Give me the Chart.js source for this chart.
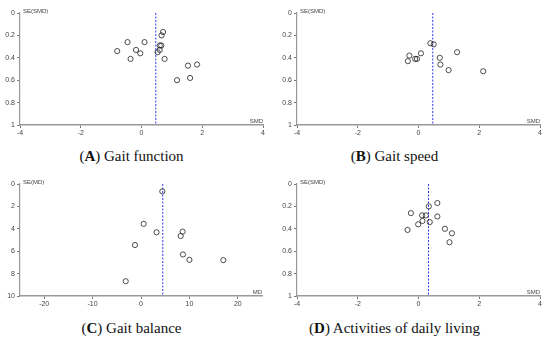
<!DOCTYPE html>
<html>
<head>
<meta charset="utf-8">
<script src="https://cdn.jsdelivr.net/npm/chart.js@4.4.1/dist/chart.umd.min.js"></script>
<style>
  body { margin: 0; background: #fff; width: 550px; height: 347px; position: relative; overflow: hidden; }
  .panel { position: absolute; width: 275px; height: 140px; }
  .cap { position: absolute; width: 275px; text-align: center; font-family: "Liberation Serif", "DejaVu Serif", serif; font-size: 15px; color: #111; }
  .cap b { font-weight: bold; }
</style>
</head>
<body>
<div class="panel" style="left:0;top:0"><canvas id="chartA"></canvas></div>
<div class="panel" style="left:275px;top:0"><canvas id="chartB"></canvas></div>
<div class="panel" style="left:0;top:170px"><canvas id="chartC"></canvas></div>
<div class="panel" style="left:275px;top:170px"><canvas id="chartD"></canvas></div>

<div class="cap" style="left:-6px;top:148px">(<b>A</b>) Gait function</div>
<div class="cap" style="left:257px;top:148px">(<b>B</b>) Gait speed</div>
<div class="cap" style="left:-6px;top:320px">(<b>C</b>) Gait balance</div>
<div class="cap" style="left:257px;top:320px">(<b>D</b>) Activities of daily living</div>

<script>
// ---- datos ----
// (A) Gait function
const smdA = [0.71, 0.66, -0.46, 0.10, 0.65, 0.60, -0.18, -0.80, -0.04, 0.60, 0.53, -0.36, 0.76, 1.53, 1.83, 1.17, 1.60];
const seA  = [0.17, 0.20, 0.26, 0.26, 0.29, 0.29, 0.33, 0.34, 0.36, 0.33, 0.35, 0.41, 0.41, 0.47, 0.46, 0.60, 0.58];
const pooledA = 0.47;

// (B) Gait speed
const smdB = [0.39, 0.50, 1.27, -0.30, 0.08, -0.35, -0.11, -0.05, 0.70, 0.72, 0.99, 2.13];
const seB  = [0.27, 0.28, 0.35, 0.38, 0.36, 0.43, 0.41, 0.41, 0.40, 0.46, 0.51, 0.52];
const pooledB = 0.47;

// (C) Gait balance
const mdC = [4.4, 0.55, 3.2, 8.6, 8.2, -1.24, 8.66, 10.0, 17.0, -3.16];
const seC = [0.66, 3.56, 4.31, 4.25, 4.64, 5.45, 6.29, 6.77, 6.80, 8.68];
const pooledC = 4.5;

// (D) Activities of daily living
const smdD = [0.62, 0.34, -0.25, 0.12, 0.24, 0.62, 0.13, -0.01, 0.37, -0.36, 0.87, 1.10, 1.02];
const seD  = [0.17, 0.20, 0.26, 0.28, 0.28, 0.29, 0.33, 0.36, 0.34, 0.41, 0.40, 0.44, 0.52];
const pooledD = 0.33;

// ticks
const xTicksSMD = [-4, -2, 0, 2, 4];
const yTicksSMD = [0, 0.2, 0.4, 0.6, 0.8, 1];
const xTicksMD = [-20, -10, 0, 10, 20];
const yTicksMD = [0, 2, 4, 6, 8, 10];

// texto de ejes
const axisLabels = {
  chartA: ["SE(SMD)", "SMD"],
  chartB: ["SE(SMD)", "SMD"],
  chartC: ["SE(MD)", "MD"],
  chartD: ["SE(SMD)", "SMD"]
};

const tickFont = { family: "Liberation Sans, Arial, sans-serif", size: 7 };
const fmt = v => String(Number(v.toFixed(2)));

// etiquetas SE(..) arriba y SMD a la derecha
const axisTitlePlugin = {
  id: "axisTitles",
  afterDraw(chart) {
    const lbl = axisLabels[chart.canvas.id];
    const a = chart.chartArea;
    const ctx = chart.ctx;
    ctx.save();
    ctx.fillStyle = "#444";
    ctx.font = "6px Liberation Sans, Arial, sans-serif";
    ctx.textBaseline = "middle";
    ctx.textAlign = "left";
    ctx.fillText(lbl[0], a.left + 3, a.top - 2);
    ctx.textAlign = "right";
    ctx.fillText(lbl[1], a.right, a.bottom - 4);
    ctx.restore();
  }
};

function funnel(id, xs, ys, pooled, xMin, xMax, yMax, xTicks, yTicks, pad) {
  const ctx = document.getElementById(id);
  new Chart(ctx, {
    type: "scatter",
    data: {
      datasets: [
        {
          data: xs.map((x, i) => ({ x: x, y: ys[i] })),
          pointStyle: "circle",
          pointRadius: 2.6,
          backgroundColor: "rgba(0,0,0,0)",
          borderColor: "#222",
          borderWidth: 0.8
        },
        {
          type: "line",
          data: [{ x: pooled, y: 0 }, { x: pooled, y: yMax }],
          borderColor: "#3535ee",
          borderWidth: 1,
          borderDash: [2, 1.5],
          pointRadius: 0,
          fill: false
        }
      ]
    },
    options: {
      responsive: true,
      maintainAspectRatio: false,
      animation: false,
      layout: { padding: { left: 0, top: pad.top, right: pad.right, bottom: 0 } },
      plugins: { legend: { display: false }, tooltip: { enabled: false } },
      scales: {
        x: {
          type: "linear",
          min: xMin,
          max: xMax,
          afterBuildTicks: s => { s.ticks = xTicks.map(v => ({ value: v })); },
          afterFit: s => { s.height = pad.bottom; },
          grid: { drawOnChartArea: false, drawTicks: true, tickLength: 3, color: "#777" },
          border: { color: "#999", width: 1.5 },
          ticks: { font: tickFont, color: "#444", padding: 1, maxRotation: 0, callback: fmt }
        },
        y: {
          type: "linear",
          reverse: true,
          min: 0,
          max: yMax,
          afterBuildTicks: s => { s.ticks = yTicks.map(v => ({ value: v })); },
          afterFit: s => { s.width = pad.left; },
          grid: { drawOnChartArea: false, drawTicks: true, tickLength: 3, color: "#777" },
          border: { color: "#999", width: 1.2 },
          ticks: { font: tickFont, color: "#444", padding: 2, callback: fmt }
        }
      }
    },
    plugins: [axisTitlePlugin]
  });
}

funnel("chartA", smdA, seA, pooledA, -4, 4, 1, xTicksSMD, yTicksSMD, { left: 20, top: 13, right: 12, bottom: 15 });
funnel("chartB", smdB, seB, pooledB, -4, 4, 1, xTicksSMD, yTicksSMD, { left: 22, top: 13, right: 10, bottom: 15 });
funnel("chartC", mdC, seC, pooledC, -25, 25, 10, xTicksMD, yTicksMD, { left: 20, top: 14, right: 13, bottom: 14 });
funnel("chartD", smdD, seD, pooledD, -4, 4, 1, xTicksSMD, yTicksSMD, { left: 22, top: 14, right: 10, bottom: 14 });
</script>
</body>
</html>
